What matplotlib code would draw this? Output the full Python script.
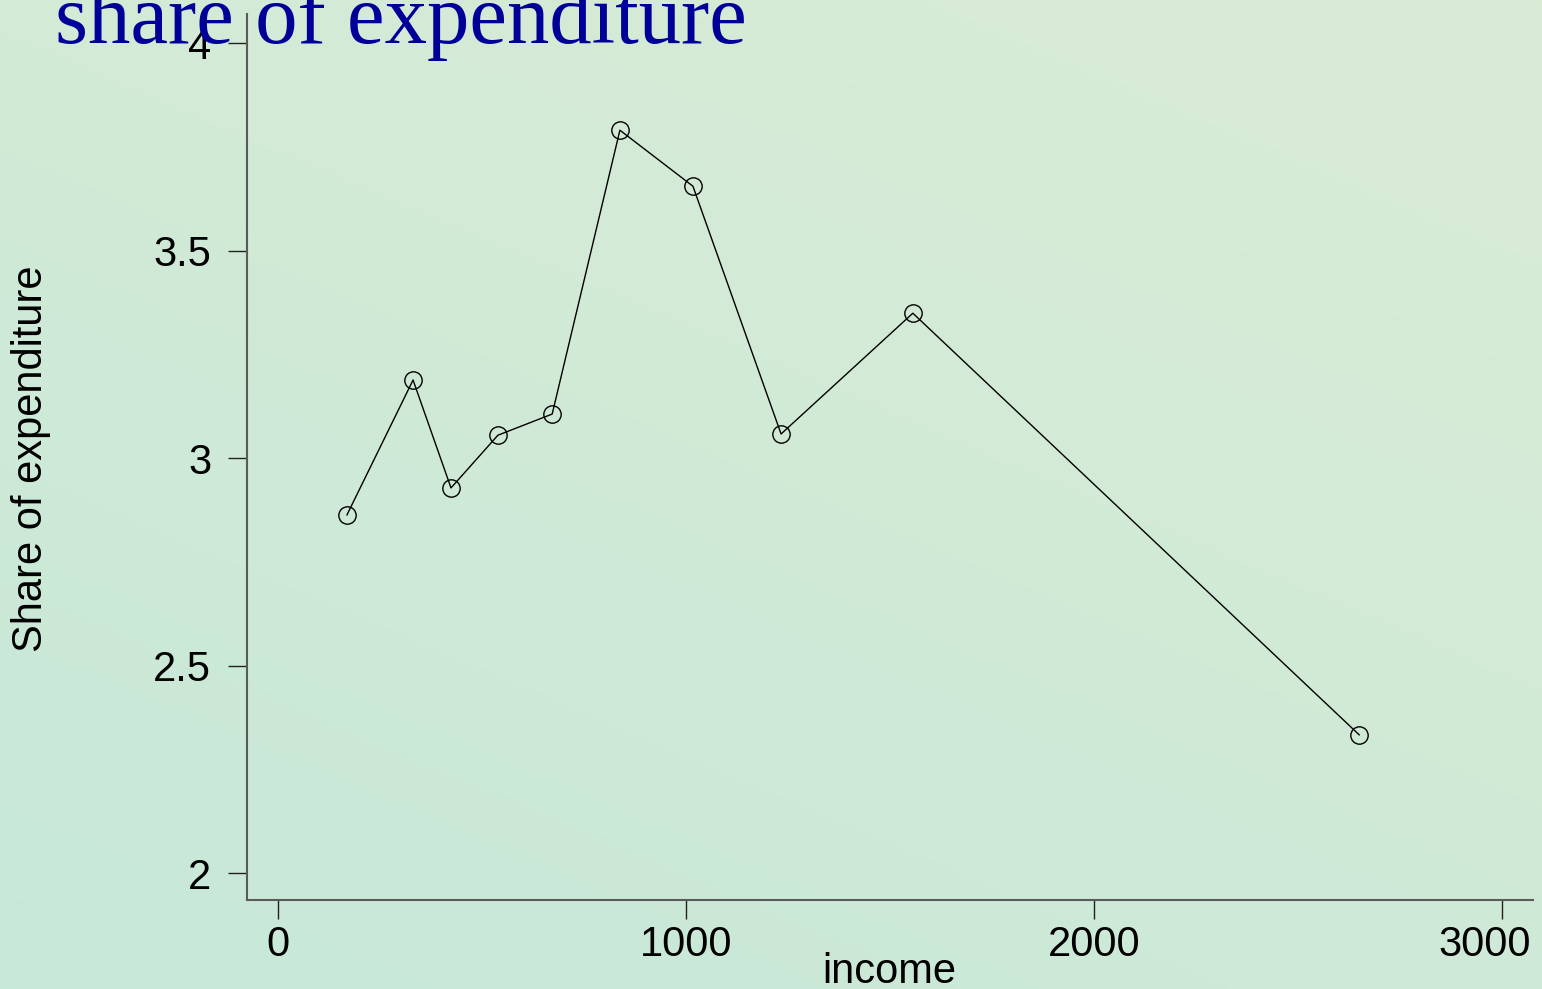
import numpy as np
import matplotlib
matplotlib.use("Agg")
import matplotlib.pyplot as plt
import matplotlib.transforms as mtransforms

income = [169, 331, 424, 539, 672, 838, 1017, 1233, 1556, 2650]
share = [2.863, 3.188, 2.928, 3.055, 3.106, 3.790, 3.655, 3.058, 3.349, 2.333]
xticks = [0, 1000, 2000, 3000]
yticks = [2, 2.5, 3, 3.5, 4]
ytick_labels = ["2", "2.5", "3", "3.5", "4"]

W, H = 1542, 989
fig = plt.figure(figsize=(W / 100, H / 100), dpi=100)

# background gradient (diagonal: yellowish green top-right, mint bottom-left)
bg = fig.add_axes([0, 0, 1, 1], zorder=-10)
c_tr = np.array([0.855, 0.925, 0.835])
c_bl = np.array([0.780, 0.910, 0.850])
yy, xx = np.mgrid[0:1:200j, 0:1:300j]
w = np.clip((xx * 0.4 + (1 - yy) * 0.6), 0, 1)[..., None]
img = c_tr[None, None, :] * w + c_bl[None, None, :] * (1 - w)
bg.imshow(img, aspect="auto", extent=[0, 1, 0, 1], origin="upper")
bg.axis("off")

L, R_, B, T = 247, 1533, 900, 14
ax = fig.add_axes([L / W, 1 - B / H, (R_ - L) / W, (B - T) / H])
ax.patch.set_alpha(0)
ax.plot(income, share, color="black", lw=1.0, marker="o", markersize=12.5,
        markerfacecolor="none", markeredgecolor="black", markeredgewidth=1.0)
ax.set_xlim(-76, 3076)
ax.set_ylim(1.935, 4.07)
ax.set_xticks(xticks)
ax.set_xticklabels([str(v) for v in xticks])
ax.set_yticks(yticks)
ax.set_yticklabels(ytick_labels)
for s in ["top", "right"]:
    ax.spines[s].set_visible(False)
for s in ["left", "bottom"]:
    ax.spines[s].set_color("#5a5a5a")
    ax.spines[s].set_linewidth(1.5)
ax.tick_params(direction="out", length=13.7, width=1.0, color="#222222",
               labelsize=30, labelcolor="black")
ax.tick_params(axis="y", pad=12)
ax.tick_params(axis="x", pad=4)
for lab in ax.get_xticklabels() + ax.get_yticklabels():
    lab.set_fontfamily("Liberation Sans")
# last x label nudged left to stay inside the figure
last = ax.get_xticklabels()[-1]
last.set_transform(last.get_transform() +
                   mtransforms.ScaledTranslation(-17 / 100, 0, fig.dpi_scale_trans))

fig.text(31 / W, 1 - 459 / H, "Share of expenditure", rotation=90,
         ha="center", va="center", fontsize=30, family="Liberation Sans")
fig.text(889 / W, 1 - 972 / H, "income", ha="center", va="center",
         fontsize=30, family="Liberation Sans")
fig.text(55 / W, 1 - 43 / H, "share of expenditure", ha="left", va="baseline",
         fontsize=61, family="Liberation Serif", color="#000099")

fig.savefig("out.png", dpi=100)
